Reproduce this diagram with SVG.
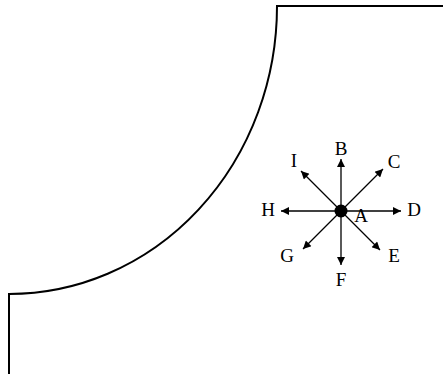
<svg xmlns="http://www.w3.org/2000/svg" width="443" height="374" viewBox="0 0 443 374">
<defs>
<marker id="ah" viewBox="0 0 10 10" refX="10" refY="5" markerWidth="9" markerHeight="8" markerUnits="userSpaceOnUse" orient="auto">
<path d="M0,0 L10,5 L0,10 Z" fill="#000"/>
</marker>
</defs>
<style>
.ol{fill:none;stroke:#000;stroke-width:2}
.ar{stroke:#000;stroke-width:1.3;fill:none;marker-end:url(#ah)}
.lb{font-family:"Liberation Serif","Times New Roman",serif;font-size:19px;fill:#000;text-anchor:middle}
</style>
<rect width="443" height="374" fill="#fff"/>
<g id="outline">
<path class="ol" d="M9,374 V294 A268,288 0 0 0 277,6 H443"/>
</g>
<g id="connectors">
<line class="ar" x1="341" y1="211" x2="341" y2="159"/>
<line class="ar" x1="341" y1="211" x2="383" y2="169"/>
<line class="ar" x1="341" y1="211" x2="401" y2="211"/>
<line class="ar" x1="341" y1="211" x2="380" y2="250"/>
<line class="ar" x1="341" y1="211" x2="341" y2="265"/>
<line class="ar" x1="341" y1="211" x2="303" y2="249"/>
<line class="ar" x1="341" y1="211" x2="281" y2="211"/>
<line class="ar" x1="341" y1="211" x2="301" y2="171"/>
</g>
<g id="A">
<circle cx="341" cy="211" r="6.5" fill="#000"/>
<text class="lb" x="361" y="222">A</text>
</g>
<g id="B"><text class="lb" x="341" y="155">B</text></g>
<g id="C"><text class="lb" x="394" y="168">C</text></g>
<g id="D"><text class="lb" x="414" y="216">D</text></g>
<g id="E"><text class="lb" x="394" y="262">E</text></g>
<g id="F"><text class="lb" x="341" y="286">F</text></g>
<g id="G"><text class="lb" x="287" y="262">G</text></g>
<g id="H"><text class="lb" x="268" y="216">H</text></g>
<g id="I"><text class="lb" x="294" y="167">I</text></g>
</svg>
